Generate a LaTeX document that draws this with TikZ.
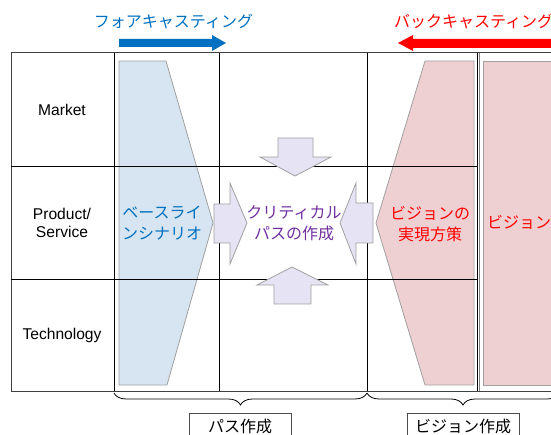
\documentclass[tikz,border=0pt]{standalone}
\usepackage{fontspec}
\setmainfont{Liberation Sans}
\newfontfamily\jpfont{Noto Sans CJK JP}
\usetikzlibrary{decorations.pathreplacing}
\definecolor{bluefill}{HTML}{D6E5F1}
\definecolor{pinkfill}{HTML}{EFD0D2}
\definecolor{lavfill}{HTML}{E6E3F4}
\definecolor{shapeedge}{HTML}{A0A0A0}
\definecolor{jblue}{HTML}{0070C0}
\definecolor{jpurple}{HTML}{7030A0}
\definecolor{jred}{HTML}{FF0000}
\tikzset{
  gridline/.style={draw=black, line width=0.8pt},
  blockarrow/.style={fill=lavfill, draw=shapeedge, line width=0.8pt},
  jp/.style={font=\jpfont\fontsize{16}{20.5}\selectfont, align=center, inner sep=0pt},
  lbl/.style={font=\fontsize{15.6}{18}\selectfont, align=center, inner sep=0pt},
  bracelabel/.style={draw=black!70, line width=0.8pt},
  bracestyle/.style={draw=black, line width=0.8pt, decorate, decoration={brace, amplitude=12pt, aspect=0.5}}
}
\begin{document}
\begin{tikzpicture}[x=1pt,y=-1pt]
\useasboundingbox (0,0) rectangle (551,435);
\begin{scope}
\clip (0,0) rectangle (551,435);
% shapes
\draw[fill=bluefill, draw=shapeedge, line width=0.8pt] (119,61) -- (166,61) -- (213,223) -- (167,385) -- (119,385) -- cycle;
\draw[fill=pinkfill, draw=shapeedge, line width=0.8pt] (425,61) -- (474,61) -- (474,385) -- (425,385) -- (376,223) -- cycle;
\draw[fill=pinkfill, draw=shapeedge, line width=0.8pt] (483,61) rectangle (560,385);
% grid
\draw[draw=black!75, line width=1pt] (11,53) -- (560,53);
\draw[draw=black!75, line width=1pt] (11,391) -- (560,391);
\draw[draw=black!75, line width=1pt] (11,53) -- (11,391);
\draw[gridline] (11,166) -- (477,166);
\draw[gridline] (11,279) -- (477,279);
\draw[gridline] (114,53) -- (114,391);
\draw[gridline] (219,53) -- (219,391);
\draw[gridline] (367,53) -- (367,391);
\draw[gridline] (477,53) -- (477,391);
\draw[draw=black!50, line width=0.8pt] (479,53) -- (479,391);
% block arrows
\draw[blockarrow] (278,138) -- (313,138) -- (313,157) -- (331,157) -- (295,176) -- (260,157) -- (278,157) -- cycle;
\draw[blockarrow] (274,304) -- (311,304) -- (311,285) -- (328,285) -- (292,267) -- (257,285) -- (274,285) -- cycle;
\draw[blockarrow] (214,204) -- (230,204) -- (230,183) -- (247,223) -- (230,264) -- (230,243) -- (214,243) -- cycle;
\draw[blockarrow] (373,203) -- (356,203) -- (356,183) -- (340,223) -- (356,264) -- (356,243) -- (373,243) -- cycle;
% top arrows
\fill[jblue] (119,39) -- (212,39) -- (212,35) -- (226,43) -- (212,51) -- (212,47) -- (119,47) -- cycle;
\fill[jred] (560,39) -- (413,39) -- (413,35) -- (398,43) -- (413,51) -- (413,48) -- (560,48) -- cycle;
% texts
\node[jp, text=jblue] (fore) at (173.5,22) {フォアキャスティング};
\node[jp, text=jred, anchor=west] (back) at (394,22) {バックキャスティング};
\node[lbl] (market) at (62,110) {Market};
\node[lbl] (product) at (62,223) {Product/\\Service};
\node[lbl] (tech) at (62,335) {Technology};
\node[jp, text=jblue] (base) at (162,223) {ベースライ\\ンシナリオ};
\node[jp, text=jpurple] (crit) at (294,223) {クリティカル\\パスの作成};
\node[jp, text=jred] (plan) at (430,224) {ビジョンの\\実現方策};
\node[jp, text=jred, anchor=west] (vision) at (487,222) {ビジョン};
% braces
\coordinate (b1r) at (367,393);
\coordinate (b1l) at (114,393);
\coordinate (b2r) at (559,393);
\coordinate (b2l) at (367,393);
\draw[bracestyle] (b1r) -- (b1l);
\draw[bracestyle] (b2r) -- (b2l);
% boxes
\draw[bracelabel, fill=white] (189,413) rectangle (291,445);
\node[jp] (path) at (240,426) {パス作成};
\draw[bracelabel, fill=white] (407,413) rectangle (519,445);
\node[jp] (vis) at (463,426) {ビジョン作成};
\end{scope}
\end{tikzpicture}
\end{document}
